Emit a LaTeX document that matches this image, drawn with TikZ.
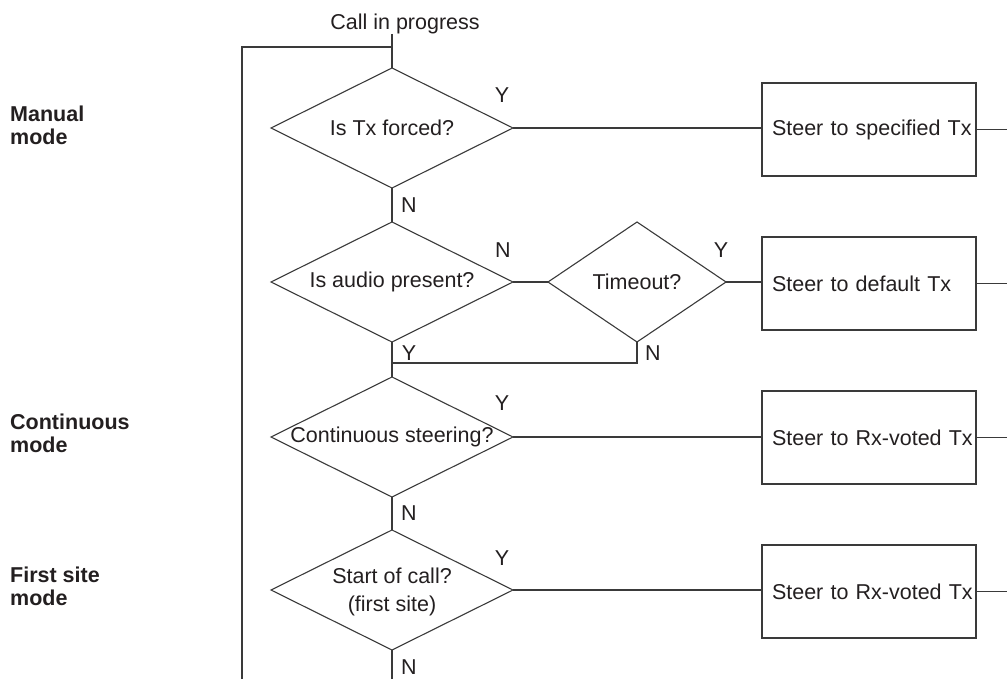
\documentclass[tikz,border=0pt]{standalone}
\usepackage{fontspec}
\setmainfont{Liberation Sans}
\usetikzlibrary{shapes.geometric}
\definecolor{ln}{HTML}{3A3A3A}
\definecolor{tx}{HTML}{231F20}
\begin{document}
\begin{tikzpicture}[x=1pt,y=-1pt,
  every node/.style={text=tx},
  conn/.style={draw=ln,line width=1.1pt},
  dia/.style={shape=diamond,draw=ln,line width=1.1pt,inner sep=0pt,outer sep=0pt,minimum width=242pt,minimum height=120pt},
  diasmall/.style={dia,minimum width=178pt},
  dtext/.style={font=\fontsize{21.5pt}{28pt}\selectfont,align=center,inner sep=0pt},
  stepbox/.style={draw=ln,line width=1.1pt,text width=214pt,align=left,inner xsep=0pt,inner ysep=0pt,minimum height=93pt,outer sep=0pt,font=\fontsize{21.5pt}{25pt}\selectfont,execute at begin node={\hspace*{10pt}}},
  yn/.style={font=\fontsize{21.5pt}{25pt}\selectfont,inner sep=0pt},
  mode/.style={font=\fontsize{21.5pt}{23pt}\selectfont\bfseries,align=left,anchor=west,inner sep=0pt}
]
\path[use as bounding box] (0,0) rectangle (1007,679);

% side labels
\node[mode] (m1) at (10,125) {Manual\\mode};
\node[mode] (m2) at (10,433) {Continuous\\mode};
\node[mode] (m3) at (10,586) {First site\\mode};

% start text
\node[yn] (cip) at (405,24) {Call in progress};
\coordinate (top) at (392,34);
\coordinate (j0) at (392,47);
\coordinate (lc) at (242,47);
\coordinate (lb) at (242,679);

% decisions
\node[dia] (d1) at (392,128) {};
\node[dtext] (d1t) at (d1) {Is Tx forced?};
\node[dia] (d2) at (392,282) {};
\node[dtext] (d2t) at (d2) {Is audio present?};
\node[diasmall] (dt) at (637,282) {};
\node[dtext] (dtt) at (dt) {Timeout?};
\node[dia] (d3) at (392,437) {};
\node[dtext] (d3t) at (d3) {Continuous steering?};
\node[dia] (d4) at (392,590) {};
\node[dtext] (d4t) at (392,592) {Start of call?\\(first site)};

% boxes
\node[stepbox] (b1) at (869,129.5) {Steer to specified Tx};
\node[stepbox] (b2) at (869,283.5) {Steer to default Tx};
\node[stepbox] (b3) at (869,437.5) {Steer to Rx-voted Tx};
\node[stepbox] (b4) at (869,591.5) {Steer to Rx-voted Tx};

% right edge stubs
\coordinate (e1) at (1007,129.5);
\coordinate (e2) at (1007,283.5);
\coordinate (e3) at (1007,437.5);
\coordinate (e4) at (1007,591.5);
\coordinate (tn) at (637,363);
\coordinate (jn) at (392,363);
\coordinate (bot) at (392,679);

% connectors
\draw[conn] (top) -- (d1.north);
\draw[conn] (j0) -- (lc) -- (lb);
\draw[conn] (d1.east) -- (b1.west |- d1.east);
\draw[conn] (b1.east) -- (e1);
\draw[conn] (d1.south) -- (d2.north);
\draw[conn] (d2.east) -- (dt.west);
\draw[conn] (dt.east) -- (b2.west |- dt.east);
\draw[conn] (b2.east) -- (e2);
\draw[conn] (dt.south) -- (tn) -- (jn);
\draw[conn] (d2.south) -- (d3.north);
\draw[conn] (d3.east) -- (b3.west |- d3.east);
\draw[conn] (b3.east) -- (e3);
\draw[conn] (d3.south) -- (d4.north);
\draw[conn] (d4.east) -- (b4.west |- d4.east);
\draw[conn] (b4.east) -- (e4);
\draw[conn] (d4.south) -- (bot);

% Y/N labels
\node[yn] (l1) at (502,95) {Y};
\node[yn] (l2) at (409,205) {N};
\node[yn] (l3) at (503,250) {N};
\node[yn] (l4) at (721,250) {Y};
\node[yn] (l5) at (409,353) {Y};
\node[yn] (l6) at (653,353) {N};
\node[yn] (l7) at (502,403) {Y};
\node[yn] (l8) at (409,513) {N};
\node[yn] (l9) at (502,558) {Y};
\node[yn] (l10) at (409,667) {N};
\end{tikzpicture}
\end{document}
